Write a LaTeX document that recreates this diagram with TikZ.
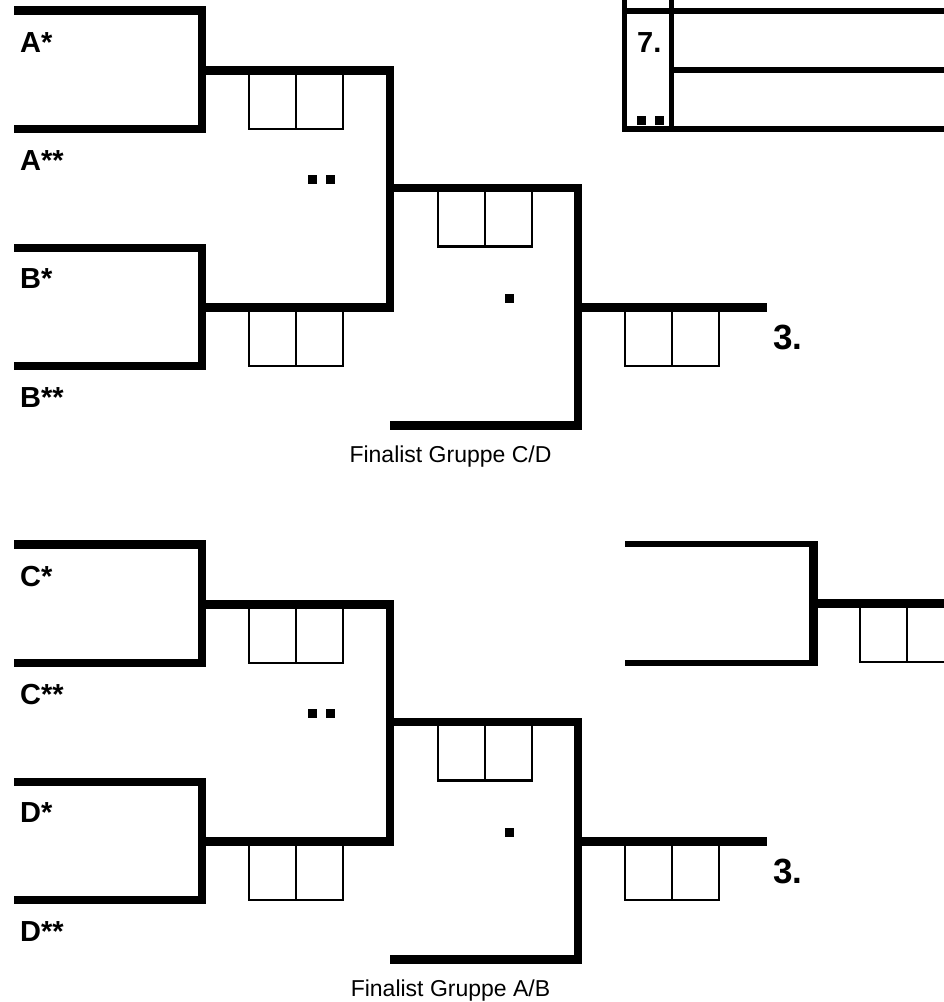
\documentclass[tikz,border=0pt]{standalone}
\usepackage{fontspec}
\setmainfont{Liberation Sans}
\usetikzlibrary{positioning}

\tikzset{
    bracket/.style={line width=8.6pt, line join=miter},
    tableline/.style={line width=5.6pt},
    scorebox/.style={line width=2.6pt},
    seed/.style={font=\fontsize{29}{34}\selectfont\bfseries, anchor=base west, inner sep=0pt},
    place/.style={font=\fontsize{35}{40}\selectfont\bfseries, anchor=base west, inner sep=0pt},
    finalist/.style={font=\fontsize{23}{28}\selectfont, anchor=base, inner sep=0pt}
}

\begin{document}
\begin{tikzpicture}[x=1pt, y=-1pt]
    \useasboundingbox (0,0) rectangle (944,1002);

    % Both halves of the draw
    \foreach \dy/\up/\lo/\fa/\fb in {0/A/B/C/D, 534/C/D/A/B} {
        \begin{scope}[yshift=-\dy pt]
            % First round
            \draw[bracket] (14,10.5) -- (202,10.5) -- (202,129) -- (14,129);
            \draw[bracket] (14,248) -- (202,248) -- (202,366) -- (14,366);
            % Semi final
            \draw[bracket] (202,70.5) -- (390,70.5) -- (390,307.5) -- (202,307.5);
            % Game for third place
            \draw[bracket] (390,188) -- (578,188) -- (578,425.5) -- (390,425.5);
            \draw[bracket] (578,307.5) -- (767,307.5);

            % Score boxes
            \foreach \bx/\by in {249/70.5, 249/307.5, 438/188, 625/307.5} {
                \draw[scorebox] (\bx,\by) rectangle ++(94,58.5);
                \draw[scorebox] (\bx+47,\by) -- ++(0,58.5);
            }

            % Dots
            \fill (308,175) rectangle ++(9,9);
            \fill (326,175) rectangle ++(9,9);
            \fill (505,294) rectangle ++(9,9);

            % Labels
            \node[seed] (seed-\up1) at (20,52) {\up*};
            \node[seed] (seed-\up2) at (20,170) {\up**};
            \node[seed] (seed-\lo1) at (20,288) {\lo*};
            \node[seed] (seed-\lo2) at (20,407) {\lo**};
            \node[place] (third-\up) at (773,349) {3.};
            \node[finalist] (final-\up) at (450.5,462.5) {Finalist Gruppe \fa/\fb};
        \end{scope}
    }

    % Table top right
    \draw[tableline] (624.5,0) -- (624.5,132);
    \draw[tableline] (671.5,0) -- (671.5,132);
    \draw[tableline] (622,11) -- (944,11);
    \draw[tableline] (674,70) -- (944,70);
    \draw[tableline] (622,129) -- (944,129);
    \node[seed] (rank) at (637,52) {7.};
    \fill (637,116) rectangle ++(9,9);
    \fill (655,116) rectangle ++(9,9);

    % Bracket bottom right
    \draw[tableline] (625,544) -- (817.5,544);
    \draw[tableline] (625,663) -- (817.5,663);
    \draw[line width=8.6pt] (813.5,541) -- (813.5,666);
    \draw[bracket] (813.5,603.5) -- (944,603.5);
    \draw[scorebox] (860,603.5) rectangle ++(94,58.5);
    \draw[scorebox] (907,603.5) -- ++(0,58.5);
\end{tikzpicture}
\end{document}
